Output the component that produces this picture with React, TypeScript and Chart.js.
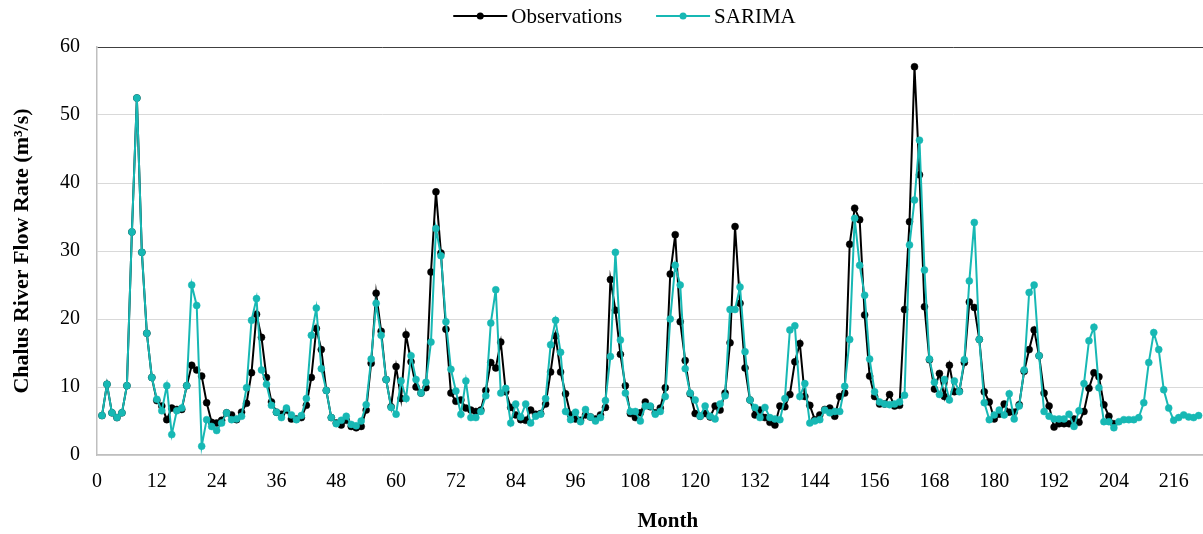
import React, { useEffect, useRef } from 'react';
import { Chart, registerables } from 'chart.js';

Chart.register(...registerables);

// Monthly flow (m³/s), month 1 .. 204
const observations: number[] = [
  5.8, 10.4, 6.2, 5.5, 6.2, 10.2, 32.8, 52.5, 29.8, 17.9,
  11.4, 8.0, 7.2, 5.2, 6.9, 6.7, 6.7, 10.2, 13.2, 12.5,
  11.6, 7.7, 4.8, 4.7, 5.1, 6.2, 5.9, 5.2, 6.3, 7.6,
  12.1, 20.7, 17.3, 11.4, 7.8, 6.3, 6.0, 6.6, 5.3, 5.3,
  5.5, 7.3, 11.4, 18.6, 15.5, 9.5, 5.5, 4.7, 4.4, 5.1,
  4.2, 4.0, 4.2, 6.6, 13.5, 23.8, 18.2, 11.1, 7.1, 13.0,
  8.3, 17.7, 13.7, 10.0, 9.1, 9.9, 26.9, 38.7, 29.7, 18.5,
  9.1, 7.9, 8.1, 6.9, 6.6, 6.4, 6.6, 9.5, 13.6, 12.8,
  16.6, 9.3, 7.0, 5.9, 5.2, 5.1, 6.6, 6.0, 6.1, 7.5,
  12.2, 17.5, 12.2, 9.0, 5.9, 5.3, 5.1, 5.9, 5.6, 5.3,
  5.9, 7.0, 25.8, 21.3, 14.8, 10.2, 6.1, 5.5, 6.2, 7.8,
  7.1, 6.2, 6.9, 9.9, 26.6, 32.4, 19.6, 13.9, 9.0, 6.1,
  5.7, 6.1, 5.6, 7.2, 6.6, 9.1, 16.5, 33.6, 22.3, 12.8,
  8.1, 5.9, 6.6, 5.5, 4.8, 4.4, 7.2, 7.1, 8.9, 13.7,
  16.4, 8.6, 7.3, 5.2, 5.9, 6.7, 6.9, 5.7, 8.6, 9.1,
  31.0, 36.3, 34.6, 20.6, 11.6, 8.6, 7.5, 7.5, 8.9, 7.2,
  7.3, 21.4, 34.3, 57.1, 41.2, 21.8, 14.0, 9.7, 12.0, 8.6,
  13.2, 9.3, 9.4, 13.6, 22.5, 21.7, 17.0, 9.3, 7.8, 5.3,
  6.0, 7.5, 6.3, 6.3, 7.4, 12.3, 15.5, 18.4, 14.6, 9.1,
  7.2, 4.1, 4.6, 4.6, 4.6, 5.3, 4.8, 6.4, 9.8, 12.1,
  11.5, 7.4, 5.7, 4.6,
];

// SARIMA model output, month 1 .. 221
const sarima: number[] = [
  5.8, 10.4, 6.2, 5.5, 6.2, 10.2, 32.8, 52.5, 29.8, 17.9,
  11.4, 8.2, 6.5, 10.2, 3.0, 6.5, 6.9, 10.2, 25.0, 22.0,
  1.3, 5.2, 4.2, 3.6, 4.7, 6.2, 5.2, 5.3, 5.7, 9.9,
  19.8, 23.0, 12.5, 10.4, 7.3, 6.3, 5.5, 6.9, 5.9, 5.2,
  5.8, 8.3, 17.6, 21.6, 12.7, 9.5, 5.5, 4.6, 5.1, 5.7,
  4.5, 4.3, 5.0, 7.4, 14.1, 22.3, 17.6, 11.1, 7.0, 6.0,
  10.9, 8.3, 14.6, 11.1, 9.1, 10.7, 16.6, 33.3, 29.3, 19.6,
  12.6, 9.4, 6.0, 10.9, 5.5, 5.5, 6.4, 8.7, 19.4, 24.3,
  9.1, 9.8, 4.7, 7.5, 5.6, 7.5, 4.7, 5.7, 6.0, 8.3,
  16.2, 19.8, 15.1, 6.4, 5.2, 6.3, 4.9, 6.7, 5.6, 5.0,
  5.5, 8.0, 14.5, 29.8, 16.9, 9.1, 6.4, 6.4, 5.0, 7.2,
  7.2, 6.0, 6.4, 8.6, 20.0, 27.9, 25.0, 12.7, 9.1, 8.1,
  5.7, 7.2, 5.7, 5.3, 7.5, 8.7, 21.4, 21.4, 24.7, 15.2,
  8.1, 7.0, 5.5, 7.0, 5.5, 5.3, 5.2, 8.3, 18.4, 19.0,
  8.6, 10.5, 4.7, 5.0, 5.2, 6.6, 6.2, 6.4, 6.4, 10.1,
  17.0, 34.8, 27.9, 23.5, 14.1, 9.3, 7.8, 7.5, 7.4, 7.5,
  7.8, 8.8, 30.9, 37.5, 46.3, 27.2, 14.1, 10.7, 8.9, 11.1,
  8.1, 10.9, 9.3, 14.0, 25.6, 34.2, 17.0, 7.7, 5.2, 5.9,
  6.6, 5.9, 9.0, 5.3, 7.2, 12.5, 23.9, 25.0, 14.6, 6.4,
  5.7, 5.3, 5.3, 5.3, 6.0, 4.2, 6.5, 10.5, 16.8, 18.8,
  9.9, 4.9, 4.9, 4.0, 4.9, 5.2, 5.2, 5.2, 5.5, 7.7,
  13.6, 18.0, 15.5, 9.6, 6.9, 5.1, 5.5, 5.9, 5.6, 5.5,
  5.8,
];

const seriesNames: string[] = ['Observations', 'SARIMA'];
const seriesColors: string[] = ['#000000', '#17B8B4'];

const xAxisTitle = 'Month';
const yAxisTitle = 'Chalus River Flow Rate (m³/s)';
const xMin = 0;
const xMax = 229;
const xStep = 12;
const yMin = 0;
const yMax = 60;
const yStep = 10;

const FONT = '"Liberation Serif", "Times New Roman", serif';

const lineDotLegend = {
  id: 'lineDotLegend',
  afterDraw(chart: any) {
    const ctx = chart.ctx as CanvasRenderingContext2D;
    ctx.save();
    ctx.font = `21px ${FONT}`;
    ctx.textBaseline = 'middle';
    ctx.textAlign = 'left';
    const items = chart.data.datasets.map((ds: any) => ({ text: ds.label, color: ds.borderColor }));
    const lineLen = 54;
    const gapText = 4;
    const gapItem = 34;
    const widths = items.map((it: any) => lineLen + gapText + ctx.measureText(it.text).width);
    const total = widths.reduce((a: number, b: number) => a + b, 0) + gapItem * (items.length - 1);
    let x = chart.width / 2 + 3 - total / 2;
    const y = 16;
    items.forEach((it: any, i: number) => {
      ctx.strokeStyle = it.color;
      ctx.fillStyle = it.color;
      ctx.lineWidth = 2;
      ctx.beginPath();
      ctx.moveTo(x, y);
      ctx.lineTo(x + lineLen, y);
      ctx.stroke();
      ctx.beginPath();
      ctx.arc(x + lineLen / 2, y, 3.5, 0, Math.PI * 2);
      ctx.fill();
      ctx.fillStyle = '#000';
      ctx.fillText(it.text, x + lineLen + gapText, y + 1);
      x += widths[i] + gapItem;
    });
    ctx.restore();
  },
};

export default function App() {
  const canvasRef = useRef<HTMLCanvasElement | null>(null);

  useEffect(() => {
    const canvas = canvasRef.current;
    if (!canvas) return;
    const obsPoints = observations.map((v, i) => ({ x: i + 1, y: v }));
    const sarPoints = sarima.map((v, i) => ({ x: i + 1, y: v }));

    const chart = new Chart(canvas, {
      type: 'line',
      data: {
        datasets: [
          {
            label: seriesNames[0],
            data: obsPoints,
            borderColor: seriesColors[0],
            backgroundColor: seriesColors[0],
            pointBackgroundColor: seriesColors[0],
            pointBorderColor: seriesColors[0],
            borderWidth: 2,
            pointRadius: 3.5,
            pointBorderWidth: 0.5,
            tension: 0,
            order: 2,
          },
          {
            label: seriesNames[1],
            data: sarPoints,
            borderColor: seriesColors[1],
            backgroundColor: seriesColors[1],
            pointBackgroundColor: seriesColors[1],
            pointBorderColor: seriesColors[1],
            borderWidth: 2,
            pointRadius: 3.5,
            pointBorderWidth: 0.5,
            tension: 0,
            order: 1,
          },
        ],
      },
      options: {
        responsive: false,
        animation: false,
        devicePixelRatio: 1,
        layout: { padding: { top: 47, left: 0, right: 0, bottom: 0 } },
        plugins: {
          legend: { display: false },
          tooltip: { enabled: false },
        },
        scales: {
          x: {
            type: 'linear',
            min: xMin,
            max: xMax,
            ticks: {
              stepSize: xStep,
              includeBounds: false,
              autoSkip: false,
              maxRotation: 0,
              padding: 15,
              color: '#000',
              font: { family: FONT, size: 20 },
            },
            grid: { display: false, drawTicks: false },
            border: { display: true, color: '#bfbfbf', width: 1.5 },
            title: {
              display: true,
              text: xAxisTitle,
              color: '#000',
              font: { family: FONT, size: 21, weight: 'bold' },
              padding: { top: 0, bottom: 0 },
            },
            afterFit: (s: any) => {
              s.height = 79;
              s.paddingLeft = 0;
              s.paddingRight = 0;
            },
          },
          y: {
            type: 'linear',
            min: yMin,
            max: yMax,
            ticks: {
              stepSize: yStep,
              padding: 17,
              color: '#000',
              font: { family: FONT, size: 20 },
            },
            grid: {
              drawTicks: false,
              lineWidth: 1,
              color: (c: any) => (c.tick && c.tick.value === yMax ? '#404040' : '#d9d9d9'),
            },
            border: { display: true, color: '#bfbfbf', width: 1.5 },
            title: {
              display: true,
              text: yAxisTitle,
              color: '#000',
              font: { family: FONT, size: 22, weight: 'bold' },
              padding: { top: 9, bottom: 0 },
            },
            afterFit: (s: any) => {
              s.width = 97;
            },
          },
        },
      },
      plugins: [lineDotLegend],
    });

    return () => chart.destroy();
  }, []);

  return (
    <div
      style={{
        position: 'absolute',
        left: 0,
        top: 0,
        width: 1203,
        height: 534,
        overflow: 'hidden',
        background: '#fff',
      }}
    >
      <canvas ref={canvasRef} width={1243} height={534} style={{ display: 'block' }} />
    </div>
  );
}
